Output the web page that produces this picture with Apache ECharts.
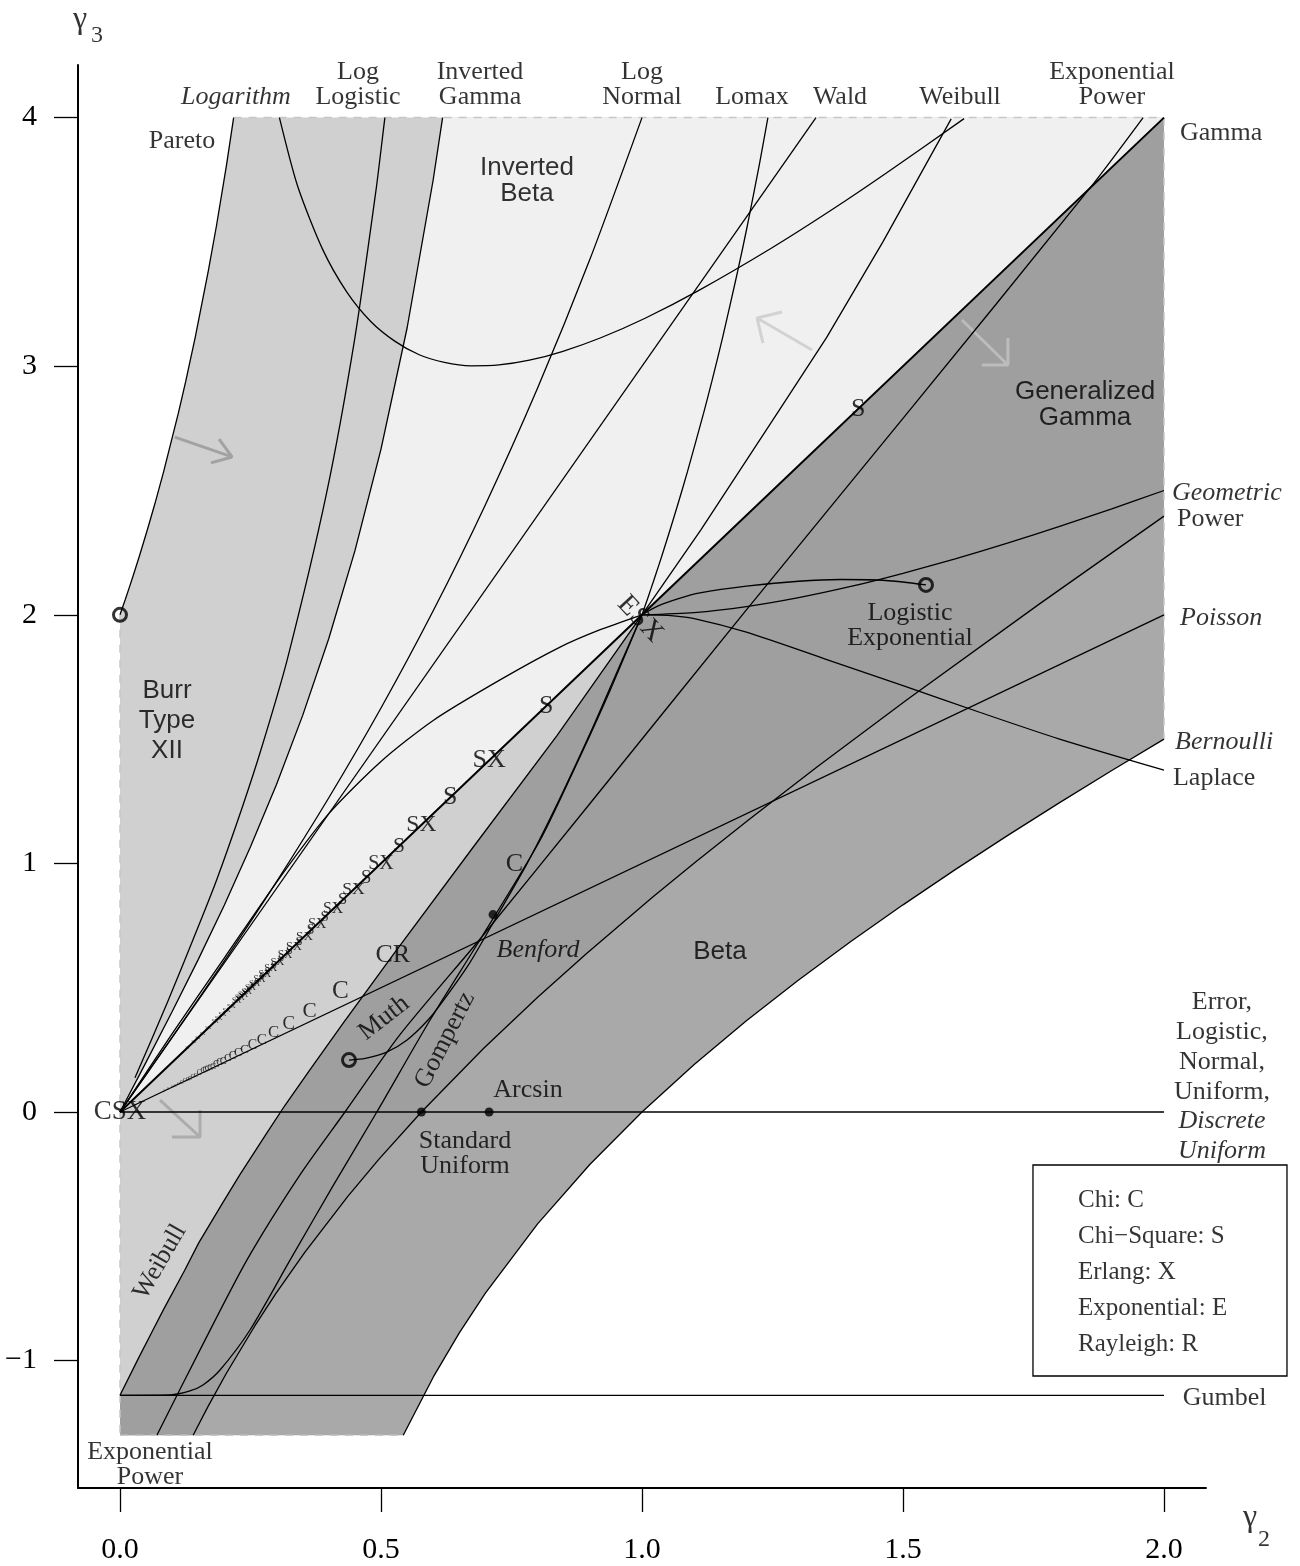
<!DOCTYPE html>
<html>
<head>
<meta charset="utf-8">
<script src="https://cdn.jsdelivr.net/npm/echarts@6/dist/echarts.min.js"></script>
<style>
  html, body { margin: 0; padding: 0; background: #fff; }
  #chart { width: 1300px; height: 1566px; }
</style>
</head>
<body>
<div id="chart"></div>
<script>
// Moment-ratio diagram: coefficient of variation (gamma2) against skewness (gamma3)

// ---------- curve values, [gamma2, gamma3] ----------
const gammaLine = [[0, 0], [1, 2], [2, 4]];
const waldLine = [[0, 0], [1.3333, 4]];
const poissonLine = [[0, 0], [2, 2]];
const symmetricLine = [[0, 0], [2, 0]];
const gumbelLine = [[0, -1.1395], [2, -1.1395]];

const logNormal = [[0, 0], [0.1, 0.301], [0.2, 0.608], [0.3, 0.927], [0.4, 1.264], [0.5, 1.625],
  [0.6, 2.016], [0.7, 2.443], [0.8, 2.912], [0.9, 3.429], [1.0, 4.0]];

const invertedGamma = [[0, 0], [0.05, 0.2005], [0.1, 0.404], [0.15, 0.614], [0.2, 0.833], [0.25, 1.0667],
  [0.3, 1.3187], [0.35, 1.5954], [0.4, 1.9048], [0.45, 2.2571], [0.5, 2.6667], [0.55, 3.1537],
  [0.6, 3.75], [0.618, 4.0]];

const logLogistic = [[0.0287, 0.138], [0.0911, 0.442], [0.1533, 0.763], [0.1851, 0.933], [0.2341, 1.225],
  [0.2702, 1.458], [0.3204, 1.820], [0.3954, 2.486], [0.4494, 3.107], [0.4903, 3.706], [0.5058, 3.972],
  [0.5075, 4.0]];

const pareto = [[0, 2], [0.0101, 2.0616], [0.01695, 2.1044], [0.02565, 2.160], [0.03706, 2.2356],
  [0.0527, 2.344], [0.06682, 2.4465], [0.0836, 2.576], [0.1118, 2.811], [0.126, 2.9397], [0.1443, 3.118],
  [0.169, 3.381], [0.1849, 3.566], [0.2041, 3.810], [0.2177, 4.0]];

const lomax = [[1, 2], [1.0102, 2.0616], [1.0171, 2.1044], [1.026, 2.160], [1.0378, 2.2356], [1.0541, 2.344],
  [1.069, 2.4465], [1.0871, 2.576], [1.118, 2.811], [1.1339, 2.9397], [1.1547, 3.118], [1.1832, 3.381],
  [1.2019, 3.566], [1.2247, 3.810], [1.2412, 4.0]];

const weibull = [[0, -1.1395], [0.0362, -0.987], [0.0629, -0.878], [0.0833, -0.795], [0.1237, -0.6376],
  [0.1511, -0.5254], [0.1944, -0.3733], [0.2291, -0.2541], [0.2805, -0.0872], [0.3155, 0.0251],
  [0.3634, 0.1681], [0.4279, 0.3586], [0.5227, 0.6311], [0.679, 1.072], [0.8371, 1.514], [1, 2],
  [1.1128, 2.342], [1.2605, 2.815], [1.3535, 3.115], [1.4615, 3.50], [1.5923, 3.995]];

const logarithm = [[0.3054, 4.0], [0.3402, 3.725], [0.3882, 3.470], [0.4346, 3.298], [0.4804, 3.180],
  [0.5263, 3.101], [0.5732, 3.046], [0.6215, 3.015], [0.6722, 3.0015], [0.726, 3.005], [0.7843, 3.024],
  [0.8485, 3.06], [0.9211, 3.1145], [1.006, 3.193], [1.1099, 3.306], [1.2484, 3.4754], [1.3636, 3.629],
  [1.4675, 3.776], [1.617, 3.996]];

const geometric = [[1, 2], [1.1, 2.009], [1.2, 2.033], [1.3, 2.069], [1.4, 2.114], [1.5, 2.167],
  [1.6, 2.225], [1.7, 2.288], [1.8, 2.356], [1.9, 2.426], [2.0, 2.5]];

const bernoulli = [[0.5426, -1.3], [0.6, -1.0667], [0.65, -0.8885], [0.7, -0.7286], [0.8, -0.45],
  [0.9, -0.2111], [1.0, 0], [1.1, 0.1909], [1.2, 0.3667], [1.3, 0.5308], [1.4, 0.6857], [1.5, 0.8333],
  [1.6, 0.975], [1.7, 1.1118], [1.8, 1.2444], [1.9, 1.3737], [2.0, 1.5]];

const power = [[0.1402, -1.3], [0.1443, -1.283], [0.169, -1.183], [0.2041, -1.0498], [0.2582, -0.8607],
  [0.2981, -0.7318], [0.3536, -0.5657], [0.4364, -0.3394], [0.4961, -0.1897], [0.5774, 0],
  [0.6963, 0.2553], [0.8006, 0.4626], [0.8944, 0.6389], [1.0206, 0.8645], [1.1026, 1.0056],
  [1.2039, 1.1747], [1.3333, 1.3846], [1.5076, 1.6583], [1.7609, 2.0429], [2.0, 2.397]];

const gompertz = [[0, -1.1395], [0.0958, -1.138], [0.134, -1.122], [0.159, -1.098], [0.1916, -1.038],
  [0.249, -0.877], [0.326, -0.595], [0.41, -0.29], [0.492, 0], [0.594, 0.37], [0.693, 0.704],
  [0.805, 1.094], [0.881, 1.428], [0.939, 1.697], [1, 2]];

const exponentialPower = [[0.0709, -1.2995], [0.1533, -0.957], [0.2433, -0.595], [0.3448, -0.253],
  [0.431, 0], [0.536, 0.31], [0.693, 0.704], [0.9, 1.24], [1.2, 2.02], [1.5, 2.79], [1.858, 3.716],
  [1.96, 4.0]];

const muth = [[0.4387, 0.209], [0.47, 0.216], [0.51, 0.24], [0.55, 0.29], [0.59, 0.37], [0.62, 0.45],
  [0.67, 0.6], [0.72, 0.78], [0.78, 1.0], [0.84, 1.25], [0.9, 1.52], [0.95, 1.76], [1, 2]];

const logisticExponential = [[1, 2], [1.03, 2.035], [1.07, 2.065], [1.111, 2.088], [1.2, 2.115],
  [1.3, 2.135], [1.38, 2.142], [1.45, 2.14], [1.5, 2.132], [1.544, 2.12]];

const laplaceLower = [[0, 0], [0.1, 0.315], [0.2, 0.62], [0.307, 0.945], [0.4, 1.2], [0.5, 1.41],
  [0.6, 1.575], [0.728, 1.738], [0.843, 1.87], [0.92, 1.94], [1, 2]];
const laplaceUpper = [[1, 2], [1.05, 1.998], [1.1, 1.985], [1.2, 1.93], [1.354, 1.82], [1.5, 1.715],
  [1.648, 1.607], [1.8, 1.5], [2.0, 1.375]];

// chi-square (S) and Erlang (X) share the gamma line
const chiSquare = [[1.41421, 2.82843, 'S'], [0.8165, 1.63299, 'S'], [0.70711, 1.41421, 'SX'],
  [0.63246, 1.26491, 'S'], [0.57735, 1.1547, 'SX'], [0.53452, 1.06904, 'S'], [0.5, 1.0, 'SX'],
  [0.4714, 0.94281, 'S'], [0.44721, 0.89443, 'SX'], [0.4264, 0.8528, 'S'], [0.40825, 0.8165, 'SX'],
  [0.39223, 0.78446, 'S'], [0.37796, 0.75593, 'SX'], [0.36515, 0.7303, 'S'], [0.35355, 0.70711, 'SX'],
  [0.343, 0.68599, 'S'], [0.33333, 0.66667, 'SX'], [0.32444, 0.64889, 'S'], [0.31623, 0.63246, 'SX'],
  [0.30861, 0.61721, 'S'], [0.30151, 0.60302, 'SX'], [0.29488, 0.58977, 'S'], [0.28868, 0.57735, 'SX'],
  [0.28284, 0.56569, 'S'], [0.27735, 0.5547, 'SX'], [0.27217, 0.54433, 'S'], [0.26726, 0.53452, 'SX'],
  [0.26261, 0.52523, 'S'], [0.2582, 0.5164, 'SX'], [0.254, 0.508, 'S'], [0.25, 0.5, 'SX'],
  [0.24618, 0.49237, 'S'], [0.24254, 0.48507, 'SX'], [0.23905, 0.47809, 'S'], [0.2357, 0.4714, 'SX'],
  [0.2325, 0.46499, 'S'], [0.22942, 0.45883, 'SX'], [0.22646, 0.45291, 'S'], [0.22361, 0.44721, 'SX'],
  [0.2132, 0.4264, 'SX'], [0.20412, 0.40825, 'SX'], [0.19612, 0.39223, 'SX'], [0.18898, 0.37796, 'SX'],
  [0.18257, 0.36515, 'SX'], [0.16903, 0.33806, 'SX'], [0.15811, 0.31623, 'SX'], [0.14907, 0.29814, 'SX'],
  [0.14142, 0.28284, 'SX'], [0.1291, 0.2582, 'SX'], [0.11952, 0.23905, 'SX'], [0.1118, 0.22361, 'SX'],
  [0.1, 0.2, 'SX']];

// chi (C); the two-degree-of-freedom case is also the Rayleigh (R)
const chi = [[0.7555, 0.9953, 'C'], [0.5227, 0.6311, 'CR'], [0.422, 0.4857, 'C'], [0.363, 0.4057, 'C'],
  [0.3232, 0.3542, 'C'], [0.2941, 0.3179, 'C'], [0.2716, 0.2908, 'C'], [0.2537, 0.2665, 'C'],
  [0.2387, 0.253, 'C'], [0.2262, 0.2383, 'C'], [0.2155, 0.2259, 'C'], [0.2061, 0.2152, 'C'],
  [0.1979, 0.2059, 'C'], [0.1906, 0.1977, 'C'], [0.184, 0.1904, 'C'], [0.1781, 0.1839, 'C'],
  [0.1727, 0.178, 'C'], [0.1678, 0.1726, 'C'], [0.1633, 0.1677, 'C'], [0.1591, 0.1632, 'C'],
  [0.1516, 0.1551, 'C'], [0.1451, 0.1482, 'C'], [0.1393, 0.1421, 'C'], [0.1342, 0.1367, 'C'],
  [0.1296, 0.1318, 'C'], [0.1235, 0.1255, 'C'], [0.1183, 0.1199, 'C'], [0.1121, 0.1136, 'C'],
  [0.1057, 0.1069, 'C'], [0.1002, 0.1013, 'C'], [0.0915, 0.0922, 'C'], [0.0847, 0.0853, 'C'],
  [0.0792, 0.0797, 'C']];

const openPoints = [[0, 2], [0.4387, 0.209], [1.544, 2.12]];
const solidPoints = [[0.5774, 0], [0.7071, 0], [0.7146, 0.794]];

const xTicks = [0, 0.5, 1.0, 1.5, 2.0];
const yTicks = [-1, 0, 1, 2, 3, 4];

// plotted window of the shaded families
const clipTop = 4, clipBottom = -1.3, clipLeft = 0, clipRight = 2;

// ---------- shaded families ----------
const upToExp = weibull.filter(p => p[0] <= 1);
const regions = [
  { name: 'Beta', fill: '#a9a9a9',
    points: bernoulli.concat([[clipRight, clipTop], [0, 0], [clipLeft, clipBottom]]) },
  { name: 'Burr XII', fill: '#d0d0d0',
    points: pareto.concat([[clipRight, clipTop], [1, 2]], upToExp.slice().reverse()) },
  { name: 'Inverted Beta', fill: '#f0f0f0',
    points: invertedGamma.concat([[clipRight, clipTop]]) },
  { name: 'Generalized Gamma', fill: '#9f9f9f',
    points: [[clipLeft, clipBottom]].concat(upToExp, [[clipRight, clipTop]], power.slice().reverse()) }
];

const clipEdges = [
  [[pareto[pareto.length - 1][0], clipTop], [clipRight, clipTop]],
  [[clipRight, clipTop], [clipRight, 1.5]],
  [[clipLeft, 2], [clipLeft, clipBottom]],
  [[clipLeft, clipBottom], [bernoulli[0][0], clipBottom]]
];

// direction arrows: shaft tail, tip, head arm, tip, head arm
const arrows = [
  { color: '#a2a2a2', pts: [[0.105, 2.715], [0.2146, 2.635], [0.1897, 2.707], [0.2146, 2.635], [0.1743, 2.611]] },
  { color: '#acacac', pts: [[0.0766, 0.048], [0.1533, -0.1006], [0.1533, 0.008], [0.1533, -0.1006], [0.0996, -0.1006]] },
  { color: '#d2d2d2', pts: [[1.3257, 3.065], [1.2203, 3.194], [1.2682, 3.218], [1.2203, 3.194], [1.2318, 3.093]] },
  { color: '#bcbcbc', pts: [[1.613, 3.186], [1.701, 3.005], [1.701, 3.113], [1.701, 3.005], [1.651, 3.005]] }
];

const legendBox = [[1.749, -0.2132], [2.2356, -1.0619]];

// ---------- helpers ----------
const serif = '"Liberation Serif", "DejaVu Serif", serif';
const sans = '"Liberation Sans", "DejaVu Sans", sans-serif';

function curve(data, opts) {
  opts = opts || {};
  return {
    type: 'line', data: data, symbol: 'none', silent: true, clip: false, z: 3,
    smooth: opts.smooth ? 0.25 : false,
    lineStyle: { color: opts.color || '#000', width: opts.width || 1.3, type: opts.type || 'solid' },
    animation: false
  };
}

function text(str, x, y, o) {
  o = o || {};
  return {
    value: [x, y],
    label: {
      show: true, position: 'inside', formatter: str,
      fontFamily: o.sans ? sans : serif, fontSize: o.size || 26,
      fontStyle: o.italic ? 'italic' : 'normal', color: '#000',
      align: o.align || 'center', verticalAlign: 'middle',
      lineHeight: o.lh || 25, rotate: o.rotate || 0
    }
  };
}

const labels = [
  text('γ', -0.0766, 4.393, { size: 32 }),
  text('3', -0.0441, 4.33, { size: 24 }),
  text('γ', 2.1648, -1.633, { size: 32 }),
  text('2', 2.1916, -1.722, { size: 24 }),
  text('Logarithm', 0.2222, 4.083, { italic: true }),
  text('Log\nLogistic', 0.456, 4.133),
  text('Inverted\nGamma', 0.6897, 4.133),
  text('Log\nNormal', 1.0, 4.133),
  text('Lomax', 1.2107, 4.083),
  text('Wald', 1.3793, 4.083),
  text('Weibull', 1.6092, 4.083),
  text('Exponential\nPower', 1.9004, 4.133),
  text('Pareto', 0.1188, 3.906),
  text('Gamma', 2.0307, 3.938, { align: 'left' }),
  text('Geometric', 2.0153, 2.49, { align: 'left', italic: true }),
  text('Power', 2.0249, 2.385, { align: 'left' }),
  text('Poisson', 2.0307, 1.987, { align: 'left', italic: true }),
  text('Bernoulli', 2.0211, 1.488, { align: 'left', italic: true }),
  text('Laplace', 2.0172, 1.3435, { align: 'left' }),
  text('Error,\nLogistic,\nNormal,\nUniform,', 2.111, 0.2615, { lh: 30 }),
  text('Discrete\nUniform', 2.111, -0.0965, { italic: true, lh: 30 }),
  text('Gumbel', 2.036, -1.15, { align: 'left' }),
  text('Logistic\nExponential', 1.5134, 1.957),
  text('Benford', 0.8008, 0.6516, { italic: true }),
  text('Arcsin', 0.7816, 0.0885),
  text('Standard\nUniform', 0.6609, -0.167),
  text('Exponential\nPower', 0.0575, -1.418),
  text('Muth', 0.5057, 0.378, { rotate: 38 }),
  text('Gompertz', 0.6226, 0.2896, { rotate: 63 }),
  text('Weibull', 0.0766, -0.6034, { rotate: 60 }),
  text('CSX', 0, 0, { size: 27 }),
  text('ESX', 0.9962, 1.983, { size: 28, rotate: -47 }),
  text('Inverted\nBeta', 0.7797, 3.745, { sans: true, lh: 26 }),
  text('Generalized\nGamma', 1.8487, 2.844, { sans: true, lh: 26 }),
  text('Burr\nType\nXII', 0.09, 1.573, { sans: true, lh: 30 }),
  text('Beta', 1.1494, 0.6436, { sans: true }),
  text('Chi: C', 1.8352, -0.354, { align: 'left', size: 25 }),
  text('Chi\u2212Square: S', 1.8352, -0.4988, { align: 'left', size: 25 }),
  text('Erlang: X', 1.8352, -0.6436, { align: 'left', size: 25 }),
  text('Exponential: E', 1.8352, -0.7884, { align: 'left', size: 25 }),
  text('Rayleigh: R', 1.8352, -0.9332, { align: 'left', size: 25 })
];

// marker letters shrink toward the origin
const chiSquareLabels = chiSquare.map(p => text(p[2], p[0], p[1], { size: Math.max(1.2, Math.min(26, 46 * p[0] - 3)) }));
const chiLabels = chi.map(p => text(p[2], p[0], p[1], { size: Math.max(1.2, Math.min(26, 66 * (p[0] - 0.04))) }));

// ---------- chart ----------
const chart = echarts.init(document.getElementById('chart'), null, { renderer: 'canvas' });

const series = [
  {
    type: 'custom', silent: true, z: 1, animation: false, clip: false,
    data: regions.map((r, i) => [i, 0]),
    renderItem: function (params, api) {
      const r = regions[params.dataIndex];
      return { type: 'polygon', shape: { points: r.points.map(p => api.coord(p)) }, style: { fill: r.fill } };
    }
  }
];
clipEdges.forEach(e => { const s = curve(e, { color: '#c6c6c6', width: 1.5, type: [8, 7] }); s.z = 2; series.push(s); });
arrows.forEach(a => { const s = curve(a.pts, { color: a.color, width: 3 }); s.z = 2; series.push(s); });

[symmetricLine, gumbelLine, poissonLine, waldLine, invertedGamma, pareto, weibull, bernoulli, power]
  .forEach(d => series.push(curve(d)));
series.push(curve(gammaLine, { width: 2 }));
[logNormal, logLogistic, logarithm, lomax, geometric, gompertz, exponentialPower, muth,
  logisticExponential, laplaceLower, laplaceUpper].forEach(d => series.push(curve(d, { smooth: true })));

series.push({
  type: 'custom', silent: true, z: 4, animation: false, clip: false, data: [[0, 0]],
  renderItem: function (params, api) {
    const a = api.coord(legendBox[0]), b = api.coord(legendBox[1]);
    return { type: 'rect', shape: { x: a[0], y: a[1], width: b[0] - a[0], height: b[1] - a[1] },
      style: { fill: 'none', stroke: '#000', lineWidth: 1.3 } };
  }
});

series.push({
  type: 'scatter', data: openPoints, symbol: 'circle', symbolSize: 13, z: 5, silent: true, clip: false,
  itemStyle: { color: 'rgba(0,0,0,0)', borderColor: '#000', borderWidth: 3 }, animation: false
});
series.push({
  type: 'scatter', data: solidPoints, symbol: 'circle', symbolSize: 9, z: 5, silent: true, clip: false,
  itemStyle: { color: '#000' }, animation: false
});
series.push({
  type: 'scatter', data: labels.concat(chiSquareLabels, chiLabels), symbolSize: 1, z: 6, silent: true,
  clip: false, itemStyle: { color: 'rgba(0,0,0,0)' }, animation: false
});

chart.setOption({
  animation: false,
  backgroundColor: '#fff',
  grid: { left: 78, right: 94, top: 65, bottom: 78 },
  xAxis: {
    type: 'value', min: -0.08046, max: 2.08046,
    splitLine: { show: false },
    axisLine: { onZero: false, lineStyle: { color: '#000', width: 2 } },
    axisTick: { customValues: xTicks, length: 24, lineStyle: { color: '#000', width: 1.3 } },
    axisLabel: { customValues: xTicks, formatter: v => v.toFixed(1), margin: 47,
      fontFamily: serif, fontSize: 30, color: '#000' }
  },
  yAxis: {
    type: 'value', min: -1.512475, max: 4.211585,
    splitLine: { show: false },
    axisLine: { onZero: false, lineStyle: { color: '#000', width: 2 } },
    axisTick: { customValues: yTicks, length: 24, lineStyle: { color: '#000', width: 1.3 } },
    axisLabel: { customValues: yTicks, formatter: v => (v < 0 ? '\u2212' + Math.abs(v) : String(v)), margin: 41,
      fontFamily: serif, fontSize: 30, color: '#000' }
  },
  series: series
});
</script>
</body>
</html>
